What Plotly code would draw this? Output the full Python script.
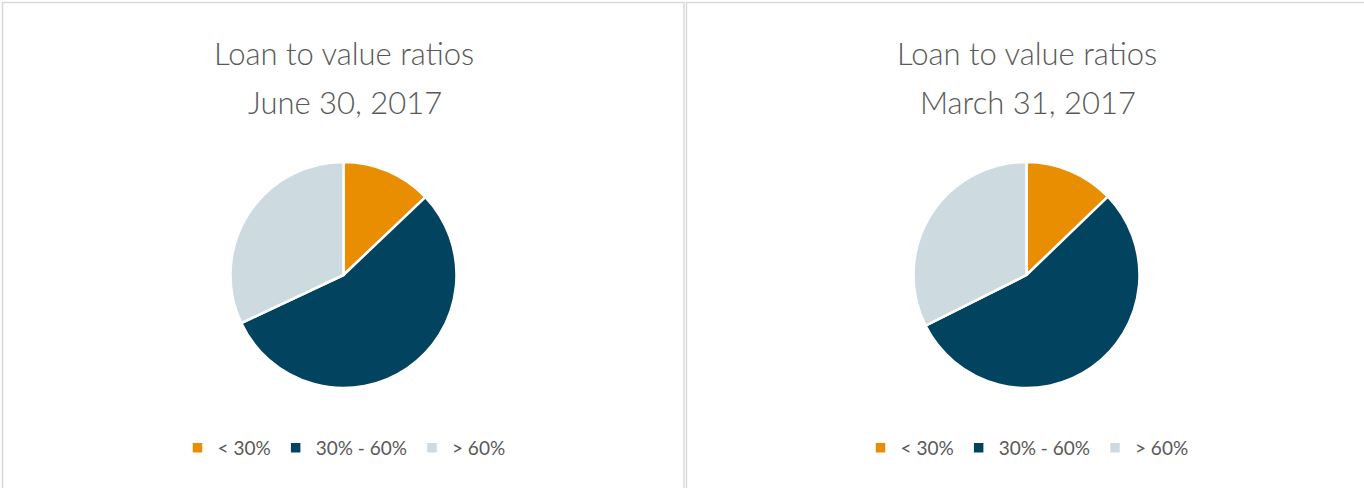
import plotly.graph_objects as go

# ---- data ----
categories = ["< 30%", "30% - 60%", "> 60%"]
june_values = [12.9, 55.1, 32.0]
march_values = [12.8, 54.8, 32.4]
title_line1 = "Loan to value ratios"
june_title = "June 30, 2017"
march_title = "March 31, 2017"
colors = ["#E88E00", "#024460", "#CDDAE0"]

W, H = 1364, 488
TEXT = "#595959"
FONT = "Lato"
BORDER = "#D9D9D9"

fig = go.Figure()

def px_x(p):
    return p / W

def px_y(p):
    return 1 - p / H

pie_d = 226
centers = [343.5, 1026.5]
cy = 275
groups = ["june", "march"]

for i, (vals, cx) in enumerate(zip([june_values, march_values], centers)):
    fig.add_trace(go.Pie(
        labels=categories,
        values=vals,
        sort=False,
        direction="clockwise",
        rotation=0,
        textinfo="none",
        hoverinfo="label+percent",
        marker=dict(colors=colors, line=dict(color="white", width=2.5)),
        domain=dict(x=[px_x(cx - 140), px_x(cx + 140)],
                    y=[px_y(cy + pie_d / 2), px_y(cy - pie_d / 2)]),
        legend="legend" if i == 0 else "legend2",
        legendgroup=groups[i],
        showlegend=True,
    ))

legend_common = dict(
    orientation="h",
    xanchor="center",
    yanchor="middle",
    y=px_y(448),
    font=dict(family=FONT, size=19, color=TEXT),
    bgcolor="rgba(0,0,0,0)",
    itemclick=False,
    itemdoubleclick=False,
    traceorder="normal",
)

annotations = []
for cx, sub in zip(centers, [june_title, march_title]):
    annotations.append(dict(x=px_x(cx), y=px_y(53), xref="paper", yref="paper",
                            text=title_line1, showarrow=False, xanchor="center",
                            yanchor="middle",
                            font=dict(family=FONT, size=31, color=TEXT, weight=300)))
    annotations.append(dict(x=px_x(cx + 1), y=px_y(102), xref="paper", yref="paper",
                            text=sub, showarrow=False, xanchor="center",
                            yanchor="middle",
                            font=dict(family=FONT, size=31, color=TEXT, weight=300)))

shapes = [
    dict(type="rect", xref="paper", yref="paper",
         x0=px_x(2.5), x1=px_x(684), y0=px_y(495), y1=px_y(2.5),
         line=dict(color=BORDER, width=1.5), fillcolor="rgba(0,0,0,0)", layer="below"),
    dict(type="rect", xref="paper", yref="paper",
         x0=px_x(686.5), x1=px_x(1375), y0=px_y(495), y1=px_y(2.5),
         line=dict(color=BORDER, width=1.5), fillcolor="rgba(0,0,0,0)", layer="below"),
]

fig.update_layout(
    width=W, height=H,
    margin=dict(l=0, r=0, t=0, b=0),
    paper_bgcolor="white",
    plot_bgcolor="white",
    legend=dict(x=px_x(344), **legend_common),
    legend2=dict(x=px_x(1027), **legend_common),
    annotations=annotations,
    shapes=shapes,
)

fig.write_html("out.html",
               config={"displayModeBar": False},
               post_script="document.body.style.margin='0px';document.body.style.overflow='hidden';")
